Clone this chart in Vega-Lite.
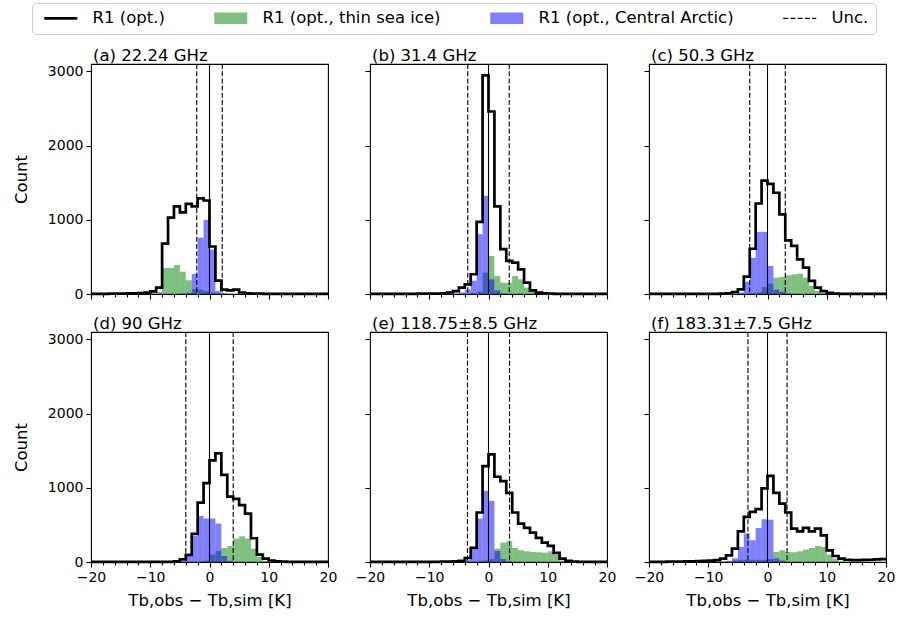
{
  "$schema": "https://vega.github.io/schema/vega-lite/v6.json",
  "background": "white",
  "padding": {"left": 12, "top": 2, "right": 5, "bottom": 5},
  "datasets": {
    "h": [
      {"p":"a","k0":-20,"k1":-19,"tot":2},{"p":"a","k0":-19,"k1":-18,"tot":3},{"p":"a","k0":-18,"k1":-17,"tot":3},{"p":"a","k0":-17,"k1":-16,"tot":4},{"p":"a","k0":-16,"k1":-15,"tot":5},{"p":"a","k0":-15,"k1":-14,"tot":6},{"p":"a","k0":-14,"k1":-13,"tot":8},{"p":"a","k0":-13,"k1":-12,"tot":10},{"p":"a","k0":-12,"k1":-11,"tot":12},{"p":"a","k0":-11,"k1":-10,"tot":18},
      {"p":"a","k0":-10,"k1":-9,"tot":35,"thin":10},{"p":"a","k0":-9,"k1":-8,"tot":85,"thin":30},{"p":"a","k0":-8,"k1":-7,"tot":680,"thin":350},{"p":"a","k0":-7,"k1":-6,"tot":1030,"thin":350},{"p":"a","k0":-6,"k1":-5,"tot":1180,"thin":390},{"p":"a","k0":-5,"k1":-4,"tot":1100,"thin":300,"ca":5},{"p":"a","k0":-4,"k1":-3,"tot":1215,"thin":185,"ca":15},{"p":"a","k0":-3,"k1":-2,"tot":1180,"thin":65,"ca":270},{"p":"a","k0":-2,"k1":-1,"tot":1290,"thin":60,"ca":760},{"p":"a","k0":-1,"k1":0,"tot":1260,"thin":40,"ca":1000},
      {"p":"a","k0":0,"k1":1,"tot":640,"thin":20,"ca":600},{"p":"a","k0":1,"k1":2,"tot":180,"thin":10,"ca":40},{"p":"a","k0":2,"k1":3,"tot":60,"ca":10},{"p":"a","k0":3,"k1":4,"tot":50},{"p":"a","k0":4,"k1":5,"tot":60},{"p":"a","k0":5,"k1":6,"tot":20},{"p":"a","k0":6,"k1":7,"tot":8},{"p":"a","k0":7,"k1":8,"tot":5},{"p":"a","k0":8,"k1":9,"tot":4},{"p":"a","k0":9,"k1":10,"tot":3},
      {"p":"a","k0":10,"k1":11,"tot":3},{"p":"a","k0":11,"k1":12,"tot":2},{"p":"a","k0":12,"k1":13,"tot":2},{"p":"a","k0":13,"k1":14,"tot":2},{"p":"a","k0":14,"k1":15,"tot":1},{"p":"a","k0":15,"k1":16,"tot":1},{"p":"a","k0":16,"k1":17,"tot":1},{"p":"a","k0":17,"k1":18,"tot":1},{"p":"a","k0":18,"k1":19,"tot":1},{"p":"a","k0":19,"k1":20,"tot":1},{"p":"a","k0":20,"tot":1},

      {"p":"b","k0":-20,"k1":-19,"tot":1},{"p":"b","k0":-19,"k1":-18,"tot":1},{"p":"b","k0":-18,"k1":-17,"tot":1},{"p":"b","k0":-17,"k1":-16,"tot":1},{"p":"b","k0":-16,"k1":-15,"tot":1},{"p":"b","k0":-15,"k1":-14,"tot":1},{"p":"b","k0":-14,"k1":-13,"tot":1},{"p":"b","k0":-13,"k1":-12,"tot":2},{"p":"b","k0":-12,"k1":-11,"tot":4},{"p":"b","k0":-11,"k1":-10,"tot":5},
      {"p":"b","k0":-10,"k1":-9,"tot":6},{"p":"b","k0":-9,"k1":-8,"tot":7},{"p":"b","k0":-8,"k1":-7,"tot":10},{"p":"b","k0":-7,"k1":-6,"tot":20},{"p":"b","k0":-6,"k1":-5,"tot":40,"ca":5},{"p":"b","k0":-5,"k1":-4,"tot":86,"ca":20},{"p":"b","k0":-4,"k1":-3,"tot":131,"ca":60},{"p":"b","k0":-3,"k1":-2,"tot":266,"thin":10,"ca":180},{"p":"b","k0":-2,"k1":-1,"tot":973,"thin":30,"ca":806},{"p":"b","k0":-1,"k1":0,"tot":2946,"thin":288,"ca":1324},
      {"p":"b","k0":0,"k1":1,"tot":2460,"thin":513,"ca":198},{"p":"b","k0":1,"k1":2,"tot":1180,"thin":243,"ca":50},{"p":"b","k0":2,"k1":3,"tot":604,"thin":153,"ca":10},{"p":"b","k0":3,"k1":4,"tot":446,"thin":150},{"p":"b","k0":4,"k1":5,"tot":423,"thin":243},{"p":"b","k0":5,"k1":6,"tot":333,"thin":198},{"p":"b","k0":6,"k1":7,"tot":153,"thin":86},{"p":"b","k0":7,"k1":8,"tot":50,"thin":40},{"p":"b","k0":8,"k1":9,"tot":18,"thin":10},{"p":"b","k0":9,"k1":10,"tot":8},
      {"p":"b","k0":10,"k1":11,"tot":4},{"p":"b","k0":11,"k1":12,"tot":3},{"p":"b","k0":12,"k1":13,"tot":2},{"p":"b","k0":13,"k1":14,"tot":2},{"p":"b","k0":14,"k1":15,"tot":1},{"p":"b","k0":15,"k1":16,"tot":1},{"p":"b","k0":16,"k1":17,"tot":1},{"p":"b","k0":17,"k1":18,"tot":1},{"p":"b","k0":18,"k1":19,"tot":1},{"p":"b","k0":19,"k1":20,"tot":1},{"p":"b","k0":20,"tot":1},

      {"p":"c","k0":-20,"k1":-19,"tot":1},{"p":"c","k0":-19,"k1":-18,"tot":1},{"p":"c","k0":-18,"k1":-17,"tot":1},{"p":"c","k0":-17,"k1":-16,"tot":1},{"p":"c","k0":-16,"k1":-15,"tot":1},{"p":"c","k0":-15,"k1":-14,"tot":1},{"p":"c","k0":-14,"k1":-13,"tot":1},{"p":"c","k0":-13,"k1":-12,"tot":2},{"p":"c","k0":-12,"k1":-11,"tot":2},{"p":"c","k0":-11,"k1":-10,"tot":2},
      {"p":"c","k0":-10,"k1":-9,"tot":3},{"p":"c","k0":-9,"k1":-8,"tot":3},{"p":"c","k0":-8,"k1":-7,"tot":4},{"p":"c","k0":-7,"k1":-6,"tot":8},{"p":"c","k0":-6,"k1":-5,"tot":27,"ca":5},{"p":"c","k0":-5,"k1":-4,"tot":63,"ca":20},{"p":"c","k0":-4,"k1":-3,"tot":235,"ca":165},{"p":"c","k0":-3,"k1":-2,"tot":610,"thin":5,"ca":487},{"p":"c","k0":-2,"k1":-1,"tot":1220,"thin":20,"ca":838},{"p":"c","k0":-1,"k1":0,"tot":1527,"thin":95,"ca":838},
      {"p":"c","k0":0,"k1":1,"tot":1485,"thin":140,"ca":378},{"p":"c","k0":1,"k1":2,"tot":1365,"thin":221,"ca":60},{"p":"c","k0":2,"k1":3,"tot":1072,"thin":230,"ca":30},{"p":"c","k0":3,"k1":4,"tot":723,"thin":252,"ca":10},{"p":"c","k0":4,"k1":5,"tot":649,"thin":266},{"p":"c","k0":5,"k1":6,"tot":468,"thin":275},{"p":"c","k0":6,"k1":7,"tot":356,"thin":221},{"p":"c","k0":7,"k1":8,"tot":176,"thin":108},{"p":"c","k0":8,"k1":9,"tot":86,"thin":40},{"p":"c","k0":9,"k1":10,"tot":40,"thin":10},
      {"p":"c","k0":10,"k1":11,"tot":15},{"p":"c","k0":11,"k1":12,"tot":6},{"p":"c","k0":12,"k1":13,"tot":3},{"p":"c","k0":13,"k1":14,"tot":2},{"p":"c","k0":14,"k1":15,"tot":2},{"p":"c","k0":15,"k1":16,"tot":1},{"p":"c","k0":16,"k1":17,"tot":1},{"p":"c","k0":17,"k1":18,"tot":1},{"p":"c","k0":18,"k1":19,"tot":1},{"p":"c","k0":19,"k1":20,"tot":1},{"p":"c","k0":20,"tot":1},

      {"p":"d","k0":-20,"k1":-19,"tot":1},{"p":"d","k0":-19,"k1":-18,"tot":1},{"p":"d","k0":-18,"k1":-17,"tot":1},{"p":"d","k0":-17,"k1":-16,"tot":1},{"p":"d","k0":-16,"k1":-15,"tot":1},{"p":"d","k0":-15,"k1":-14,"tot":1},{"p":"d","k0":-14,"k1":-13,"tot":1},{"p":"d","k0":-13,"k1":-12,"tot":1},{"p":"d","k0":-12,"k1":-11,"tot":1},{"p":"d","k0":-11,"k1":-10,"tot":1},
      {"p":"d","k0":-10,"k1":-9,"tot":1},{"p":"d","k0":-9,"k1":-8,"tot":1},{"p":"d","k0":-8,"k1":-7,"tot":1},{"p":"d","k0":-7,"k1":-6,"tot":1},{"p":"d","k0":-6,"k1":-5,"tot":10},{"p":"d","k0":-5,"k1":-4,"tot":36,"ca":10},{"p":"d","k0":-4,"k1":-3,"tot":95,"ca":85},{"p":"d","k0":-3,"k1":-2,"tot":380,"ca":350},{"p":"d","k0":-2,"k1":-1,"tot":800,"thin":10,"ca":620},{"p":"d","k0":-1,"k1":0,"tot":1063,"thin":20,"ca":586},
      {"p":"d","k0":0,"k1":1,"tot":1370,"thin":100,"ca":586},{"p":"d","k0":1,"k1":2,"tot":1464,"thin":150,"ca":518},{"p":"d","k0":2,"k1":3,"tot":1175,"thin":189,"ca":80},{"p":"d","k0":3,"k1":4,"tot":880,"thin":216,"ca":15},{"p":"d","k0":4,"k1":5,"tot":850,"thin":315},{"p":"d","k0":5,"k1":6,"tot":766,"thin":347},{"p":"d","k0":6,"k1":7,"tot":653,"thin":315},{"p":"d","k0":7,"k1":8,"tot":320,"thin":180},{"p":"d","k0":8,"k1":9,"tot":100,"thin":68},{"p":"d","k0":9,"k1":10,"tot":45,"thin":15},
      {"p":"d","k0":10,"k1":11,"tot":20},{"p":"d","k0":11,"k1":12,"tot":10},{"p":"d","k0":12,"k1":13,"tot":5},{"p":"d","k0":13,"k1":14,"tot":3},{"p":"d","k0":14,"k1":15,"tot":2},{"p":"d","k0":15,"k1":16,"tot":1},{"p":"d","k0":16,"k1":17,"tot":1},{"p":"d","k0":17,"k1":18,"tot":1},{"p":"d","k0":18,"k1":19,"tot":1},{"p":"d","k0":19,"k1":20,"tot":1},{"p":"d","k0":20,"tot":1},

      {"p":"e","k0":-20,"k1":-19,"tot":1},{"p":"e","k0":-19,"k1":-18,"tot":1},{"p":"e","k0":-18,"k1":-17,"tot":1},{"p":"e","k0":-17,"k1":-16,"tot":1},{"p":"e","k0":-16,"k1":-15,"tot":1},{"p":"e","k0":-15,"k1":-14,"tot":1},{"p":"e","k0":-14,"k1":-13,"tot":1},{"p":"e","k0":-13,"k1":-12,"tot":2},{"p":"e","k0":-12,"k1":-11,"tot":2},{"p":"e","k0":-11,"k1":-10,"tot":2},
      {"p":"e","k0":-10,"k1":-9,"tot":3},{"p":"e","k0":-9,"k1":-8,"tot":3},{"p":"e","k0":-8,"k1":-7,"tot":4},{"p":"e","k0":-7,"k1":-6,"tot":5},{"p":"e","k0":-6,"k1":-5,"tot":8},{"p":"e","k0":-5,"k1":-4,"tot":15,"ca":5},{"p":"e","k0":-4,"k1":-3,"tot":54,"ca":30},{"p":"e","k0":-3,"k1":-2,"tot":190,"ca":170},{"p":"e","k0":-2,"k1":-1,"tot":667,"thin":10,"ca":586},{"p":"e","k0":-1,"k1":0,"tot":1293,"thin":20,"ca":959},
      {"p":"e","k0":0,"k1":1,"tot":1450,"thin":40,"ca":824},{"p":"e","k0":1,"k1":2,"tot":1149,"thin":180,"ca":150},{"p":"e","k0":2,"k1":3,"tot":1090,"thin":261,"ca":40},{"p":"e","k0":3,"k1":4,"tot":932,"thin":279,"ca":10},{"p":"e","k0":4,"k1":5,"tot":667,"thin":189},{"p":"e","k0":5,"k1":6,"tot":518,"thin":158},{"p":"e","k0":6,"k1":7,"tot":459,"thin":144},{"p":"e","k0":7,"k1":8,"tot":396,"thin":135},{"p":"e","k0":8,"k1":9,"tot":324,"thin":131},{"p":"e","k0":9,"k1":10,"tot":261,"thin":126},
      {"p":"e","k0":10,"k1":11,"tot":216,"thin":144},{"p":"e","k0":11,"k1":12,"tot":122,"thin":99},{"p":"e","k0":12,"k1":13,"tot":45,"thin":20},{"p":"e","k0":13,"k1":14,"tot":15,"thin":5},{"p":"e","k0":14,"k1":15,"tot":5},{"p":"e","k0":15,"k1":16,"tot":3},{"p":"e","k0":16,"k1":17,"tot":2},{"p":"e","k0":17,"k1":18,"tot":2},{"p":"e","k0":18,"k1":19,"tot":1},{"p":"e","k0":19,"k1":20,"tot":1},{"p":"e","k0":20,"tot":1},

      {"p":"f","k0":-20,"k1":-19,"tot":2},{"p":"f","k0":-19,"k1":-18,"tot":3},{"p":"f","k0":-18,"k1":-17,"tot":3},{"p":"f","k0":-17,"k1":-16,"tot":4},{"p":"f","k0":-16,"k1":-15,"tot":5},{"p":"f","k0":-15,"k1":-14,"tot":6},{"p":"f","k0":-14,"k1":-13,"tot":8},{"p":"f","k0":-13,"k1":-12,"tot":10},{"p":"f","k0":-12,"k1":-11,"tot":12},{"p":"f","k0":-11,"k1":-10,"tot":15},
      {"p":"f","k0":-10,"k1":-9,"tot":18},{"p":"f","k0":-9,"k1":-8,"tot":25},{"p":"f","k0":-8,"k1":-7,"tot":45,"ca":5},{"p":"f","k0":-7,"k1":-6,"tot":90,"thin":10,"ca":10},{"p":"f","k0":-6,"k1":-5,"tot":180,"thin":20,"ca":50},{"p":"f","k0":-5,"k1":-4,"tot":414,"thin":30,"ca":203},{"p":"f","k0":-4,"k1":-3,"tot":608,"thin":30,"ca":383},{"p":"f","k0":-3,"k1":-2,"tot":676,"thin":30,"ca":293},{"p":"f","k0":-2,"k1":-1,"tot":712,"thin":30,"ca":459},{"p":"f","k0":-1,"k1":0,"tot":991,"thin":30,"ca":577},
      {"p":"f","k0":0,"k1":1,"tot":1162,"thin":40,"ca":570},{"p":"f","k0":1,"k1":2,"tot":932,"thin":135,"ca":50},{"p":"f","k0":2,"k1":3,"tot":788,"thin":158,"ca":20},{"p":"f","k0":3,"k1":4,"tot":667,"thin":135},{"p":"f","k0":4,"k1":5,"tot":450,"thin":131},{"p":"f","k0":5,"k1":6,"tot":414,"thin":144},{"p":"f","k0":6,"k1":7,"tot":459,"thin":167},{"p":"f","k0":7,"k1":8,"tot":414,"thin":189},{"p":"f","k0":8,"k1":9,"tot":450,"thin":216},{"p":"f","k0":9,"k1":10,"tot":360,"thin":203},
      {"p":"f","k0":10,"k1":11,"tot":158,"thin":99},{"p":"f","k0":11,"k1":12,"tot":81,"thin":45},{"p":"f","k0":12,"k1":13,"tot":45,"thin":15},{"p":"f","k0":13,"k1":14,"tot":30},{"p":"f","k0":14,"k1":15,"tot":25},{"p":"f","k0":15,"k1":16,"tot":25},{"p":"f","k0":16,"k1":17,"tot":28},{"p":"f","k0":17,"k1":18,"tot":30},{"p":"f","k0":18,"k1":19,"tot":35},{"p":"f","k0":19,"k1":20,"tot":40},{"p":"f","k0":20,"tot":40}
    ],
    "u": [
      {"p":"a","u":-2.15},{"p":"a","u":2.15},
      {"p":"b","u":-3.5},{"p":"b","u":3.5},
      {"p":"c","u":-3.0},{"p":"c","u":3.0},
      {"p":"d","u":-4.0},{"p":"d","u":4.0},
      {"p":"e","u":-3.55},{"p":"e","u":3.55},
      {"p":"f","u":-3.3},{"p":"f","u":3.3}
    ],
    "leg": [
      {"s": "R1 (opt.)"}, {"s": "R1 (opt., thin sea ice)"}, {"s": "R1 (opt., Central Arctic)"}, {"s": "Unc."}
    ]
  },
  "columns": 3,
  "spacing": {"row": 38, "column": 42},
  "bounds": "flush",
  "concat": [
    {
      "width": 237, "height": 230,
      "title": {"text": "(a) 22.24 GHz"},
      "data": {"name": "h"},
      "transform": [{"filter": "datum.p == 'a'"}],
      "resolve": {"axis": {"x": "independent"}},
      "layer": [
        {"mark": {"type": "bar", "opacity": 0.5, "color": "#008000"},
         "encoding": {
           "x": {"field": "k0", "type": "quantitative", "scale": {"domain": [-20, 20], "nice": false, "zero": false}, "axis": {"orient": "bottom", "values": [-20, -10, 0, 10, 20], "labels": false, "title": null}},
           "x2": {"field": "k1"},
           "y": {"field": "thin", "type": "quantitative", "scale": {"domain": [0, 3100], "nice": false}, "axis": {"values": [0, 1000, 2000, 3000], "format": "d", "title": "Count", "titlePadding": 18}},
           "y2": {"datum": 0}}},
        {"mark": {"type": "bar", "opacity": 0.5, "color": "#0000ff"},
         "encoding": {
           "x": {"field": "k0", "type": "quantitative", "scale": {"domain": [-20, 20], "nice": false, "zero": false}, "axis": null},
           "x2": {"field": "k1"},
           "y": {"field": "ca", "type": "quantitative", "scale": {"domain": [0, 3100], "nice": false}},
           "y2": {"datum": 0}}},
        {"mark": {"type": "line", "interpolate": "step-after", "color": "black", "strokeWidth": 2.7},
         "encoding": {
           "x": {"field": "k0", "type": "quantitative", "scale": {"domain": [-20, 20], "nice": false, "zero": false}, "axis": null},
           "y": {"field": "tot", "type": "quantitative", "scale": {"domain": [0, 3100], "nice": false}}}},
        {"data": {"values": [{"z": 0}]},
         "mark": {"type": "rule", "color": "black", "strokeWidth": 1.1},
         "encoding": {"x": {"field": "z", "type": "quantitative", "scale": {"domain": [-20, 20], "nice": false, "zero": false}, "axis": {"orient": "bottom", "values": [-18, -16, -14, -12, -8, -6, -4, -2, 2, 4, 6, 8, 12, 14, 16, 18], "labels": false, "title": null, "tickSize": 3}}}},
        {"data": {"name": "u"}, "transform": [{"filter": "datum.p == 'a'"}],
         "mark": {"type": "rule", "color": "black", "strokeWidth": 1.1, "strokeDash": [5, 2.2]},
         "encoding": {"x": {"field": "u", "type": "quantitative", "scale": {"domain": [-20, 20], "nice": false, "zero": false}, "axis": null}}},
        {"data": {"name": "leg"},
         "mark": {"type": "point", "filled": true, "opacity": 0},
         "encoding": {
           "color": {"field": "s", "type": "nominal",
             "scale": {"domain": ["R1 (opt.)", "R1 (opt., thin sea ice)", "R1 (opt., Central Arctic)", "Unc."], "range": ["black", "#80c080", "#8080ff", "black"]},
             "legend": {"orient": "none", "legendX": -59, "legendY": -61, "direction": "horizontal", "columns": 4, "title": null,
               "labelFontSize": 16.5, "labelFont": "DejaVu Sans", "labelColor": "black", "labelLimit": 400,
               "symbolSize": 144, "symbolOffset": 13.5, "labelOffset": 23.5, "columnPadding": 44, "padding": 7, "symbolOpacity": 1,
               "strokeColor": "#cccccc", "fillColor": "white", "cornerRadius": 4}},
           "shape": {"field": "s", "type": "nominal",
             "scale": {"domain": ["R1 (opt.)", "R1 (opt., thin sea ice)", "R1 (opt., Central Arctic)", "Unc."],
               "range": ["M-2.75,-0.225H2.75V0.225H-2.75Z", "M-2.75,-0.95H2.75V0.95H-2.75Z", "M-2.75,-0.95H2.75V0.95H-2.75Z", "M-2.75,-0.09H-1.92V0.09H-2.75Z M-1.55,-0.09H-0.72V0.09H-1.55Z M-0.35,-0.09H0.48V0.09H-0.35Z M0.85,-0.09H1.68V0.09H0.85Z M2.05,-0.09H2.75V0.09H2.05Z"]},
             "legend": {"orient": "none", "legendX": -59, "legendY": -61, "direction": "horizontal", "columns": 4, "title": null,
               "labelFontSize": 16.5, "labelFont": "DejaVu Sans", "labelColor": "black", "labelLimit": 400,
               "symbolSize": 144, "symbolOffset": 13.5, "labelOffset": 23.5, "columnPadding": 44, "padding": 7, "symbolOpacity": 1,
               "strokeColor": "#cccccc", "fillColor": "white", "cornerRadius": 4}}
         }}
      ]
    },
    {
      "width": 237, "height": 230,
      "title": {"text": "(b) 31.4 GHz"},
      "data": {"name": "h"},
      "transform": [{"filter": "datum.p == 'b'"}],
      "resolve": {"axis": {"x": "independent"}},
      "layer": [
        {"mark": {"type": "bar", "opacity": 0.5, "color": "#008000"},
         "encoding": {
           "x": {"field": "k0", "type": "quantitative", "scale": {"domain": [-20, 20], "nice": false, "zero": false}, "axis": {"orient": "bottom", "values": [-20, -10, 0, 10, 20], "labels": false, "title": null}},
           "x2": {"field": "k1"},
           "y": {"field": "thin", "type": "quantitative", "scale": {"domain": [0, 3100], "nice": false}, "axis": {"values": [0, 1000, 2000, 3000], "labels": false, "title": null}},
           "y2": {"datum": 0}}},
        {"mark": {"type": "bar", "opacity": 0.5, "color": "#0000ff"},
         "encoding": {
           "x": {"field": "k0", "type": "quantitative", "scale": {"domain": [-20, 20], "nice": false, "zero": false}, "axis": null},
           "x2": {"field": "k1"},
           "y": {"field": "ca", "type": "quantitative", "scale": {"domain": [0, 3100], "nice": false}},
           "y2": {"datum": 0}}},
        {"mark": {"type": "line", "interpolate": "step-after", "color": "black", "strokeWidth": 2.7},
         "encoding": {
           "x": {"field": "k0", "type": "quantitative", "scale": {"domain": [-20, 20], "nice": false, "zero": false}, "axis": null},
           "y": {"field": "tot", "type": "quantitative", "scale": {"domain": [0, 3100], "nice": false}}}},
        {"data": {"values": [{"z": 0}]},
         "mark": {"type": "rule", "color": "black", "strokeWidth": 1.1},
         "encoding": {"x": {"field": "z", "type": "quantitative", "scale": {"domain": [-20, 20], "nice": false, "zero": false}, "axis": {"orient": "bottom", "values": [-18, -16, -14, -12, -8, -6, -4, -2, 2, 4, 6, 8, 12, 14, 16, 18], "labels": false, "title": null, "tickSize": 3}}}},
        {"data": {"name": "u"}, "transform": [{"filter": "datum.p == 'b'"}],
         "mark": {"type": "rule", "color": "black", "strokeWidth": 1.1, "strokeDash": [5, 2.2]},
         "encoding": {"x": {"field": "u", "type": "quantitative", "scale": {"domain": [-20, 20], "nice": false, "zero": false}, "axis": null}}}
      ]
    },
    {
      "width": 237, "height": 230,
      "title": {"text": "(c) 50.3 GHz"},
      "data": {"name": "h"},
      "transform": [{"filter": "datum.p == 'c'"}],
      "resolve": {"axis": {"x": "independent"}},
      "layer": [
        {"mark": {"type": "bar", "opacity": 0.5, "color": "#008000"},
         "encoding": {
           "x": {"field": "k0", "type": "quantitative", "scale": {"domain": [-20, 20], "nice": false, "zero": false}, "axis": {"orient": "bottom", "values": [-20, -10, 0, 10, 20], "labels": false, "title": null}},
           "x2": {"field": "k1"},
           "y": {"field": "thin", "type": "quantitative", "scale": {"domain": [0, 3100], "nice": false}, "axis": {"values": [0, 1000, 2000, 3000], "labels": false, "title": null}},
           "y2": {"datum": 0}}},
        {"mark": {"type": "bar", "opacity": 0.5, "color": "#0000ff"},
         "encoding": {
           "x": {"field": "k0", "type": "quantitative", "scale": {"domain": [-20, 20], "nice": false, "zero": false}, "axis": null},
           "x2": {"field": "k1"},
           "y": {"field": "ca", "type": "quantitative", "scale": {"domain": [0, 3100], "nice": false}},
           "y2": {"datum": 0}}},
        {"mark": {"type": "line", "interpolate": "step-after", "color": "black", "strokeWidth": 2.7},
         "encoding": {
           "x": {"field": "k0", "type": "quantitative", "scale": {"domain": [-20, 20], "nice": false, "zero": false}, "axis": null},
           "y": {"field": "tot", "type": "quantitative", "scale": {"domain": [0, 3100], "nice": false}}}},
        {"data": {"values": [{"z": 0}]},
         "mark": {"type": "rule", "color": "black", "strokeWidth": 1.1},
         "encoding": {"x": {"field": "z", "type": "quantitative", "scale": {"domain": [-20, 20], "nice": false, "zero": false}, "axis": {"orient": "bottom", "values": [-18, -16, -14, -12, -8, -6, -4, -2, 2, 4, 6, 8, 12, 14, 16, 18], "labels": false, "title": null, "tickSize": 3}}}},
        {"data": {"name": "u"}, "transform": [{"filter": "datum.p == 'c'"}],
         "mark": {"type": "rule", "color": "black", "strokeWidth": 1.1, "strokeDash": [5, 2.2]},
         "encoding": {"x": {"field": "u", "type": "quantitative", "scale": {"domain": [-20, 20], "nice": false, "zero": false}, "axis": null}}}
      ]
    },
    {
      "width": 237, "height": 230,
      "title": {"text": "(d) 90 GHz"},
      "data": {"name": "h"},
      "transform": [{"filter": "datum.p == 'd'"}],
      "resolve": {"axis": {"x": "independent"}},
      "layer": [
        {"mark": {"type": "bar", "opacity": 0.5, "color": "#008000"},
         "encoding": {
           "x": {"field": "k0", "type": "quantitative", "scale": {"domain": [-20, 20], "nice": false, "zero": false}, "axis": {"orient": "bottom", "values": [-20, -10, 0, 10, 20], "format": "d", "title": "Tb,obs − Tb,sim [K]", "titlePadding": 8}},
           "x2": {"field": "k1"},
           "y": {"field": "thin", "type": "quantitative", "scale": {"domain": [0, 3100], "nice": false}, "axis": {"values": [0, 1000, 2000, 3000], "format": "d", "title": "Count", "titlePadding": 18}},
           "y2": {"datum": 0}}},
        {"mark": {"type": "bar", "opacity": 0.5, "color": "#0000ff"},
         "encoding": {
           "x": {"field": "k0", "type": "quantitative", "scale": {"domain": [-20, 20], "nice": false, "zero": false}, "axis": null},
           "x2": {"field": "k1"},
           "y": {"field": "ca", "type": "quantitative", "scale": {"domain": [0, 3100], "nice": false}},
           "y2": {"datum": 0}}},
        {"mark": {"type": "line", "interpolate": "step-after", "color": "black", "strokeWidth": 2.7},
         "encoding": {
           "x": {"field": "k0", "type": "quantitative", "scale": {"domain": [-20, 20], "nice": false, "zero": false}, "axis": null},
           "y": {"field": "tot", "type": "quantitative", "scale": {"domain": [0, 3100], "nice": false}}}},
        {"data": {"values": [{"z": 0}]},
         "mark": {"type": "rule", "color": "black", "strokeWidth": 1.1},
         "encoding": {"x": {"field": "z", "type": "quantitative", "scale": {"domain": [-20, 20], "nice": false, "zero": false}, "axis": {"orient": "bottom", "values": [-18, -16, -14, -12, -8, -6, -4, -2, 2, 4, 6, 8, 12, 14, 16, 18], "labels": false, "title": null, "tickSize": 3}}}},
        {"data": {"name": "u"}, "transform": [{"filter": "datum.p == 'd'"}],
         "mark": {"type": "rule", "color": "black", "strokeWidth": 1.1, "strokeDash": [5, 2.2]},
         "encoding": {"x": {"field": "u", "type": "quantitative", "scale": {"domain": [-20, 20], "nice": false, "zero": false}, "axis": null}}}
      ]
    },
    {
      "width": 237, "height": 230,
      "title": {"text": "(e) 118.75±8.5 GHz"},
      "data": {"name": "h"},
      "transform": [{"filter": "datum.p == 'e'"}],
      "resolve": {"axis": {"x": "independent"}},
      "layer": [
        {"mark": {"type": "bar", "opacity": 0.5, "color": "#008000"},
         "encoding": {
           "x": {"field": "k0", "type": "quantitative", "scale": {"domain": [-20, 20], "nice": false, "zero": false}, "axis": {"orient": "bottom", "values": [-20, -10, 0, 10, 20], "format": "d", "title": "Tb,obs − Tb,sim [K]", "titlePadding": 8}},
           "x2": {"field": "k1"},
           "y": {"field": "thin", "type": "quantitative", "scale": {"domain": [0, 3100], "nice": false}, "axis": {"values": [0, 1000, 2000, 3000], "labels": false, "title": null}},
           "y2": {"datum": 0}}},
        {"mark": {"type": "bar", "opacity": 0.5, "color": "#0000ff"},
         "encoding": {
           "x": {"field": "k0", "type": "quantitative", "scale": {"domain": [-20, 20], "nice": false, "zero": false}, "axis": null},
           "x2": {"field": "k1"},
           "y": {"field": "ca", "type": "quantitative", "scale": {"domain": [0, 3100], "nice": false}},
           "y2": {"datum": 0}}},
        {"mark": {"type": "line", "interpolate": "step-after", "color": "black", "strokeWidth": 2.7},
         "encoding": {
           "x": {"field": "k0", "type": "quantitative", "scale": {"domain": [-20, 20], "nice": false, "zero": false}, "axis": null},
           "y": {"field": "tot", "type": "quantitative", "scale": {"domain": [0, 3100], "nice": false}}}},
        {"data": {"values": [{"z": 0}]},
         "mark": {"type": "rule", "color": "black", "strokeWidth": 1.1},
         "encoding": {"x": {"field": "z", "type": "quantitative", "scale": {"domain": [-20, 20], "nice": false, "zero": false}, "axis": {"orient": "bottom", "values": [-18, -16, -14, -12, -8, -6, -4, -2, 2, 4, 6, 8, 12, 14, 16, 18], "labels": false, "title": null, "tickSize": 3}}}},
        {"data": {"name": "u"}, "transform": [{"filter": "datum.p == 'e'"}],
         "mark": {"type": "rule", "color": "black", "strokeWidth": 1.1, "strokeDash": [5, 2.2]},
         "encoding": {"x": {"field": "u", "type": "quantitative", "scale": {"domain": [-20, 20], "nice": false, "zero": false}, "axis": null}}}
      ]
    },
    {
      "width": 237, "height": 230,
      "title": {"text": "(f) 183.31±7.5 GHz"},
      "data": {"name": "h"},
      "transform": [{"filter": "datum.p == 'f'"}],
      "resolve": {"axis": {"x": "independent"}},
      "layer": [
        {"mark": {"type": "bar", "opacity": 0.5, "color": "#008000"},
         "encoding": {
           "x": {"field": "k0", "type": "quantitative", "scale": {"domain": [-20, 20], "nice": false, "zero": false}, "axis": {"orient": "bottom", "values": [-20, -10, 0, 10, 20], "format": "d", "title": "Tb,obs − Tb,sim [K]", "titlePadding": 8}},
           "x2": {"field": "k1"},
           "y": {"field": "thin", "type": "quantitative", "scale": {"domain": [0, 3100], "nice": false}, "axis": {"values": [0, 1000, 2000, 3000], "labels": false, "title": null}},
           "y2": {"datum": 0}}},
        {"mark": {"type": "bar", "opacity": 0.5, "color": "#0000ff"},
         "encoding": {
           "x": {"field": "k0", "type": "quantitative", "scale": {"domain": [-20, 20], "nice": false, "zero": false}, "axis": null},
           "x2": {"field": "k1"},
           "y": {"field": "ca", "type": "quantitative", "scale": {"domain": [0, 3100], "nice": false}},
           "y2": {"datum": 0}}},
        {"mark": {"type": "line", "interpolate": "step-after", "color": "black", "strokeWidth": 2.7},
         "encoding": {
           "x": {"field": "k0", "type": "quantitative", "scale": {"domain": [-20, 20], "nice": false, "zero": false}, "axis": null},
           "y": {"field": "tot", "type": "quantitative", "scale": {"domain": [0, 3100], "nice": false}}}},
        {"data": {"values": [{"z": 0}]},
         "mark": {"type": "rule", "color": "black", "strokeWidth": 1.1},
         "encoding": {"x": {"field": "z", "type": "quantitative", "scale": {"domain": [-20, 20], "nice": false, "zero": false}, "axis": {"orient": "bottom", "values": [-18, -16, -14, -12, -8, -6, -4, -2, 2, 4, 6, 8, 12, 14, 16, 18], "labels": false, "title": null, "tickSize": 3}}}},
        {"data": {"name": "u"}, "transform": [{"filter": "datum.p == 'f'"}],
         "mark": {"type": "rule", "color": "black", "strokeWidth": 1.1, "strokeDash": [5, 2.2]},
         "encoding": {"x": {"field": "u", "type": "quantitative", "scale": {"domain": [-20, 20], "nice": false, "zero": false}, "axis": null}}}
      ]
    }
  ],
  "config": {
    "font": "DejaVu Sans",
    "view": {"stroke": "black", "strokeWidth": 1.1},
    "axis": {"domain": false, "grid": false, "ticks": true, "tickColor": "black", "tickSize": 5, "tickWidth": 1.1, "labelColor": "black", "labelFont": "DejaVu Sans", "labelFontSize": 14, "labelPadding": 3, "labelFlush": false, "labelOverlap": false, "titleFont": "DejaVu Sans", "titleFontSize": 16.5, "titleFontWeight": "normal", "titleColor": "black"},
    "title": {"font": "DejaVu Sans", "fontSize": 16.5, "fontWeight": "normal", "color": "black", "anchor": "start", "frame": "group", "offset": 3, "dy": 4, "dx": 2}
  }
}
